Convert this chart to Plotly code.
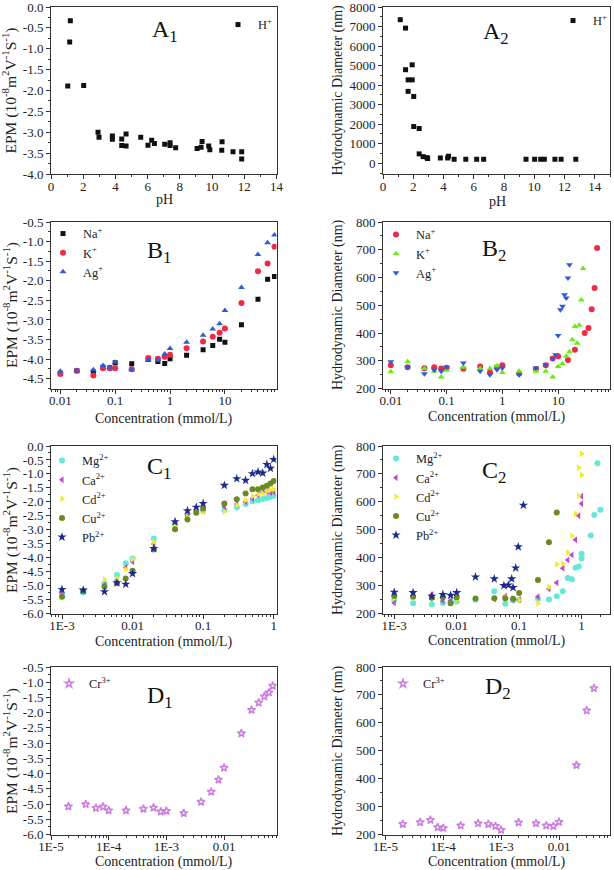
import plotly.graph_objects as go

W, H = 614, 870
FONT = "Liberation Serif, Times New Roman, Times, serif"
INK = "#222222"

# ---------------- data ----------------
# A1: EPM vs pH
ph_A1 = [1.04, 1.16, 1.2, 2.03, 2.92, 2.98, 3.81, 3.81, 4.39, 4.39, 4.66, 4.66, 5.57, 6.02, 6.25,
         6.42, 7.06, 7.39, 7.39, 7.74, 9.07, 9.32, 9.38, 9.79, 9.86, 10.6, 10.62, 11.3, 11.84, 11.84]
epm_A1 = [-1.89, -0.84, -0.33, -1.88, -3.0, -3.12, -3.09, -3.17, -3.32, -3.16, -3.04, -3.33, -3.12, -3.31, -3.19,
          -3.27, -3.29, -3.25, -3.32, -3.37, -3.39, -3.36, -3.22, -3.33, -3.42, -3.43, -3.23, -3.47, -3.64, -3.47]

# A2: hydrodynamic diameter vs pH
ph_A2 = [1.14, 1.49, 1.49, 1.66, 1.66, 1.93, 1.93, 2.03, 2.03, 2.39, 2.39, 2.65, 2.91, 2.95, 3.79, 4.27,
         4.33, 4.7, 5.47, 6.19, 6.65, 9.45, 10.02, 10.42, 10.66, 11.36, 11.77, 12.74]
d_A2 = [7350, 6920, 4790, 4270, 3680, 5040, 4270, 3420, 1880, 1780, 480, 340, 290, 240, 270, 270,
        360, 205, 205, 205, 205, 205, 205, 205, 205, 205, 205, 205]

# B1: EPM vs concentration (monovalent)
conc_B1 = [0.01, 0.02, 0.04, 0.06, 0.08, 0.1, 0.2, 0.4, 0.6, 0.8, 1, 2, 4, 6, 8, 10, 20, 40, 60, 80]
epm_B1_Na = [-4.36, -4.30, -4.33, -4.21, -4.22, -4.09, -4.12, -4.01, -4.06, -4.11, -3.99, -3.90, -3.76,
             -3.65, -3.49, -3.57, -3.12, -2.47, -1.96, -1.89]
epm_B1_K = [-4.38, -4.30, -4.42, -4.23, -4.23, -4.23, -4.26, -3.97, -3.99, -3.94, -3.89, -3.72, -3.55,
            -3.43, -3.33, -3.22, -2.57, -1.76, -1.56, -1.13]
epm_B1_Ag = [-4.31, -4.30, -4.27, -4.16, -4.21, -4.08, -4.27, -4.03, -4.03, -3.87, -3.73, -3.57, -3.39,
             -3.23, -3.10, -2.76, -2.17, -1.33, -1.03, -0.83]

# B2: diameter vs concentration (monovalent)
conc_B2_Na = [0.01, 0.02, 0.04, 0.06, 0.08, 0.1, 0.2, 0.4, 0.6, 0.8, 1, 2, 4, 6, 8, 10, 15, 20, 30, 35, 40, 45, 50]
d_B2_Na = [284, 277, 273, 277, 272, 275, 271, 279, 258, 277, 284, 254, 270, 284, 308, 316, 303, 340, 400, 418, 486, 562, 706]
conc_B2_K = [0.01, 0.02, 0.04, 0.06, 0.08, 0.1, 0.2, 0.4, 0.6, 0.8, 1, 2, 4, 6, 8, 10, 12, 14, 16, 18, 20, 22, 24, 26, 28]
d_B2_K = [260, 296, 272, 262, 241, 266, 277, 272, 272, 282, 258, 262, 262, 262, 241, 279, 289, 316, 332, 376, 423, 363, 428, 519, 632]
conc_B2_Ag = [0.01, 0.02, 0.04, 0.06, 0.08, 0.1, 0.2, 0.4, 0.6, 0.8, 1, 2, 4, 6, 8, 9, 10, 11, 12, 13, 14, 15, 16]
d_B2_Ag = [296, 277, 253, 267, 262, 277, 292, 262, 250, 268, 274, 250, 274, 286, 308, 322, 391, 484, 496, 538, 526, 598, 646]

# C1: EPM vs concentration (divalent)
conc_C1 = [0.001, 0.002, 0.004, 0.006, 0.008, 0.01, 0.02, 0.04, 0.06, 0.08, 0.1, 0.2, 0.3, 0.4, 0.5, 0.6, 0.7, 0.8, 0.9, 1.0]
epm_C1_Mg = [-5.28, -5.25, -4.92, -4.62, -4.20, -4.03, -3.31, -2.80, -2.44, -2.33, -2.33, -2.29, -2.20, -2.08,
             -1.98, -1.94, -1.90, -1.86, -1.82, -1.78]
epm_C1_Ca = [-5.22, -5.19, -4.98, -4.80, -4.35, -4.15, -3.51, -2.77, -2.51, -2.27, -2.30, -2.18, -2.08, -2.00,
             -1.88, -1.76, -1.66, -1.64, -1.67, -1.64]
epm_C1_Cd = [-5.43, -5.19, -4.78, -4.74, -4.42, -4.06, -3.45, -2.89, -2.56, -2.33, -2.35, -2.35, -2.12, -1.94,
             -1.79, -1.73, -1.70, -1.62, -1.58, -1.55]
epm_C1_Cu = [-5.40, -5.19, -5.04, -4.92, -4.75, -4.47, -3.71, -2.98, -2.63, -2.39, -2.24, -2.06, -1.91, -1.70,
             -1.55, -1.55, -1.49, -1.42, -1.34, -1.25]
epm_C1_Pb = [-5.14, -5.16, -5.22, -4.90, -4.95, -4.57, -3.67, -2.71, -2.32, -2.19, -2.06, -1.41, -1.17, -1.23,
             -0.99, -0.93, -0.97, -0.66, -0.80, -0.48]

# C2: diameter vs concentration (divalent)
conc_C2_Mg = [0.001, 0.002, 0.004, 0.006, 0.008, 0.01, 0.02, 0.04, 0.06, 0.08, 0.1, 0.2, 0.3, 0.4, 0.5,
              0.6, 0.7, 0.8, 0.9, 1.0, 1.0, 1.4, 1.6, 1.8, 2.0]
d_C2_Mg = [248, 237, 233, 238, 243, 243, 249, 280, 235, 247, 248, 253, 250, 262, 280,
           327, 323, 364, 368, 397, 414, 479, 553, 738, 572]
conc_C2_Ca = [0.001, 0.002, 0.004, 0.006, 0.008, 0.01, 0.04, 0.06, 0.08, 0.1, 0.2, 0.3, 0.4, 0.5, 0.6,
              0.7, 0.8, 0.9, 1.0, 1.0]
d_C2_Ca = [238, 262, 268, 245, 246, 253, 252, 262, 250, 250, 260, 288, 310, 362, 392, 410, 464, 550, 593, 620]
conc_C2_Cd = [0.001, 0.002, 0.004, 0.006, 0.008, 0.01, 0.04, 0.06, 0.08, 0.1, 0.2, 0.3, 0.4, 0.5, 0.6,
              0.7, 0.8, 0.9, 0.9, 1.0, 1.0]
d_C2_Cd = [255, 262, 253, 260, 265, 248, 255, 258, 255, 248, 236, 295, 376, 378, 418, 478, 557, 622, 722, 697, 772]
conc_C2_Cu = [0.001, 0.002, 0.004, 0.006, 0.008, 0.01, 0.02, 0.04, 0.06, 0.08, 0.1, 0.2, 0.3, 0.4]
d_C2_Cu = [263, 260, 256, 258, 237, 258, 254, 255, 255, 253, 273, 320, 455, 562]
conc_C2_Pb = [0.001, 0.002, 0.004, 0.006, 0.008, 0.01, 0.02, 0.04, 0.057, 0.067, 0.076, 0.08, 0.088, 0.097, 0.117]
d_C2_Pb = [276, 275, 262, 268, 265, 275, 331, 324, 300, 302, 324, 293, 363, 439, 588]

# D1 / D2: trivalent Cr
conc_D1 = [2e-5, 4e-5, 6e-5, 8e-5, 1e-4, 2e-4, 4e-4, 6e-4, 8e-4, 1e-3, 2e-3, 4e-3, 6e-3, 8e-3, 0.01,
           0.02, 0.03, 0.04, 0.05, 0.06, 0.07]
epm_D1 = [-5.08, -5.01, -5.13, -5.09, -5.21, -5.21, -5.16, -5.12, -5.25, -5.23, -5.30, -4.93, -4.60, -4.20,
          -3.81, -2.68, -1.91, -1.67, -1.47, -1.34, -1.12]
conc_D2 = [2e-5, 4e-5, 6e-5, 8e-5, 1e-4, 2e-4, 4e-4, 6e-4, 8e-4, 1e-3, 2e-3, 4e-3, 6e-3, 8e-3, 0.01,
           0.02, 0.03, 0.04]
d_D2 = [237, 244, 252, 226, 223, 232, 240, 237, 230, 216, 243, 240, 232, 230, 245, 448, 644, 724]

# tick labels
tv_ph_A1 = [0, 2, 4, 6, 8, 10, 12, 14]
tt_ph_A1 = ["0", "2", "4", "6", "8", "10", "12", "14"]
tv_epm_A1 = [0, -0.5, -1.0, -1.5, -2.0, -2.5, -3.0, -3.5, -4.0]
tt_epm_A1 = ["0.0", "-0.5", "-1.0", "-1.5", "-2.0", "-2.5", "-3.0", "-3.5", "-4.0"]
tv_d_A2 = [0, 1000, 2000, 3000, 4000, 5000, 6000, 7000, 8000]
tt_d_A2 = ["0", "1000", "2000", "3000", "4000", "5000", "6000", "7000", "8000"]
tv_epm_B1 = [-0.5, -1.0, -1.5, -2.0, -2.5, -3.0, -3.5, -4.0, -4.5]
tt_epm_B1 = ["-0.5", "-1.0", "-1.5", "-2.0", "-2.5", "-3.0", "-3.5", "-4.0", "-4.5"]
tv_conc_B = [0.01, 0.1, 1, 10]
tt_conc_B = ["0.01", "0.1", "1", "10"]
tv_d = [200, 300, 400, 500, 600, 700, 800]
tt_d = ["200", "300", "400", "500", "600", "700", "800"]
tv_epm_C1 = [0, -0.5, -1.0, -1.5, -2.0, -2.5, -3.0, -3.5, -4.0, -4.5, -5.0, -5.5, -6.0]
tt_epm_C1 = ["0.0", "-0.5", "-1.0", "-1.5", "-2.0", "-2.5", "-3.0", "-3.5", "-4.0", "-4.5", "-5.0", "-5.5", "-6.0"]
tv_conc_C = [0.001, 0.01, 0.1, 1]
tt_conc_C = ["1E-3", "0.01", "0.1", "1"]
tv_epm_D1 = [-0.5, -1.0, -1.5, -2.0, -2.5, -3.0, -3.5, -4.0, -4.5, -5.0, -5.5, -6.0]
tt_epm_D1 = ["-0.5", "-1.0", "-1.5", "-2.0", "-2.5", "-3.0", "-3.5", "-4.0", "-4.5", "-5.0", "-5.5", "-6.0"]
tv_conc_D = [1e-5, 1e-4, 1e-3, 0.01]
tt_conc_D = ["1E-5", "1E-4", "1E-3", "0.01"]

# ---------------- styling helpers ----------------
def px_x(a, b):
    return [a / W, b / W]

def px_y(top, bot):
    return [1 - bot / H, 1 - top / H]

COL_L = px_x(51, 276.5)
COL_R = px_x(383, 610)
ROW_A = px_y(7, 174)
ROW_B = px_y(222, 388.5)
ROW_C = px_y(446, 613.5)
ROW_D = px_y(667, 834.5)

def axis(domain, anchor, rng, tv, tt, minor_dtick, log=False, xax=False):
    d = dict(
        domain=domain, anchor=anchor, type="log" if log else "linear", range=rng,
        tickmode="array", tickvals=tv, ticktext=tt, automargin=False,
        ticklabeloverflow="allow",
        ticks="outside", ticklen=4, tickwidth=1, tickcolor="#333",
        showline=True, linecolor="#333", linewidth=1, mirror=True,
        showgrid=False, zeroline=False,
        tickfont=dict(family=FONT, size=13, color=INK),
        minor=dict(ticks="outside", ticklen=2, tickwidth=1, tickcolor="#333",
                   dtick=minor_dtick, showgrid=False),
    )
    if xax:
        d["ticklabelstandoff"] = -4
    return d

fig = go.Figure()

def add(x, y, name, symbol, color, size, xa, ya, leg, group, line_w=0, line_c=None):
    fig.add_trace(go.Scatter(
        x=x, y=y, mode="markers", name=name, xaxis=xa, yaxis=ya, legend=leg,
        legendgroup=group, showlegend=True,
        marker=dict(symbol=symbol, size=size, color=color,
                    line=dict(width=line_w, color=line_c or color)),
    ))

BLACK = "#111111"
RED = "#ee2b47"
BLUE = "#2f5bd9"
GREEN = "#66ee11"
CYAN = "#66e8d8"
MAG = "#c445cc"
YEL = "#eeee22"
OLIVE = "#6b8a23"
NAVY = "#1e2a8a"
LAV = "#cc80dd"

add(ph_A1, epm_A1, "H<sup>+</sup>", "square", BLACK, 5, "x", "y", "legend", "a1")
add(ph_A2, d_A2, "H<sup>+</sup>", "square", BLACK, 5, "x2", "y2", "legend2", "a2")

add(conc_B1, epm_B1_Na, "Na<sup>+</sup>", "square", BLACK, 5, "x3", "y3", "legend3", "b1a")
add(conc_B1, epm_B1_K, "K<sup>+</sup>", "circle", RED, 6, "x3", "y3", "legend3", "b1b")
add(conc_B1, epm_B1_Ag, "Ag<sup>+</sup>", "triangle-up", BLUE, 6, "x3", "y3", "legend3", "b1c")

add(conc_B2_Na, d_B2_Na, "Na<sup>+</sup>", "circle", RED, 6, "x4", "y4", "legend4", "b2a")
add(conc_B2_K, d_B2_K, "K<sup>+</sup>", "triangle-up", GREEN, 6, "x4", "y4", "legend4", "b2b")
add(conc_B2_Ag, d_B2_Ag, "Ag<sup>+</sup>", "triangle-down", BLUE, 6, "x4", "y4", "legend4", "b2c")

add(conc_C1, epm_C1_Mg, "Mg<sup>2+</sup>", "circle", CYAN, 6, "x5", "y5", "legend5", "c1a")
add(conc_C1, epm_C1_Ca, "Ca<sup>2+</sup>", "triangle-left", MAG, 6, "x5", "y5", "legend5", "c1b")
add(conc_C1, epm_C1_Cd, "Cd<sup>2+</sup>", "triangle-right", YEL, 6, "x5", "y5", "legend5", "c1c")
add(conc_C1, epm_C1_Cu, "Cu<sup>2+</sup>", "circle", OLIVE, 6, "x5", "y5", "legend5", "c1d")
add(conc_C1, epm_C1_Pb, "Pb<sup>2+</sup>", "star", NAVY, 7, "x5", "y5", "legend5", "c1e")

add(conc_C2_Mg, d_C2_Mg, "Mg<sup>2+</sup>", "circle", CYAN, 6, "x6", "y6", "legend6", "c2a")
add(conc_C2_Ca, d_C2_Ca, "Ca<sup>2+</sup>", "triangle-left", MAG, 6, "x6", "y6", "legend6", "c2b")
add(conc_C2_Cd, d_C2_Cd, "Cd<sup>2+</sup>", "triangle-right", YEL, 6, "x6", "y6", "legend6", "c2c")
add(conc_C2_Cu, d_C2_Cu, "Cu<sup>2+</sup>", "circle", OLIVE, 6, "x6", "y6", "legend6", "c2d")
add(conc_C2_Pb, d_C2_Pb, "Pb<sup>2+</sup>", "star", NAVY, 7, "x6", "y6", "legend6", "c2e")

add(conc_D1, epm_D1, "Cr<sup>3+</sup>", "star-open", LAV, 6, "x7", "y7", "legend7", "d1", 1.5)
add(conc_D2, d_D2, "Cr<sup>3+</sup>", "star-open", LAV, 6, "x8", "y8", "legend8", "d2", 1.5)

layout = dict(
    width=W, height=H, margin=dict(l=0, r=0, t=0, b=0, pad=0, autoexpand=False),
    paper_bgcolor="white", plot_bgcolor="white", showlegend=True,
    font=dict(family=FONT, size=13, color=INK),
    xaxis=axis(COL_L, "y", [0, 14], tv_ph_A1, tt_ph_A1, 1, xax=True),
    yaxis=axis(ROW_A, "x", [-4, 0], tv_epm_A1, tt_epm_A1, 0.25),
    xaxis2=axis(COL_R, "y2", [0, 15], tv_ph_A1, tt_ph_A1, 1, xax=True),
    yaxis2=axis(ROW_A, "x2", [-550, 8000], tv_d_A2, tt_d_A2, 500),
    xaxis3=axis(COL_L, "y3", [-2.17, 1.94], tv_conc_B, tt_conc_B, "D1", log=True, xax=True),
    yaxis3=axis(ROW_B, "x3", [-4.75, -0.5], tv_epm_B1, tt_epm_B1, 0.25),
    xaxis4=axis(COL_R, "y4", [-2.14, 1.93], tv_conc_B, tt_conc_B, "D1", log=True, xax=True),
    yaxis4=axis(ROW_B, "x4", [200, 800], tv_d, tt_d, 50),
    xaxis5=axis(COL_L, "y5", [-3.156, 0.04], tv_conc_C, tt_conc_C, "D1", log=True, xax=True),
    yaxis5=axis(ROW_C, "x5", [-6, 0], tv_epm_C1, tt_epm_C1, 0.25),
    xaxis6=axis(COL_R, "y6", [-3.18, 0.455], tv_conc_C, tt_conc_C, "D1", log=True, xax=True),
    yaxis6=axis(ROW_C, "x6", [200, 800], tv_d, tt_d, 50),
    xaxis7=axis(COL_L, "y7", [-5.0, -1.09], tv_conc_D, tt_conc_D, "D1", log=True, xax=True),
    yaxis7=axis(ROW_D, "x7", [-6, -0.5], tv_epm_D1, tt_epm_D1, 0.25),
    xaxis8=axis(COL_R, "y8", [-5.04, -1.12], tv_conc_D, tt_conc_D, "D1", log=True, xax=True),
    yaxis8=axis(ROW_D, "x8", [200, 800], tv_d, tt_d, 50),
)

def legend(mx, my):
    # mx, my: pixel position of first legend marker
    return dict(x=(mx - 20) / W, y=1 - (my - 15) / H, xanchor="left", yanchor="top",
                bgcolor="rgba(0,0,0,0)", borderwidth=0, tracegroupgap=0, visible=True,
                font=dict(family=FONT, size=12.4, color=INK), traceorder="normal")

layout["legend"] = legend(238, 25)
layout["legend2"] = legend(573, 21)
layout["legend3"] = legend(63, 234)
layout["legend4"] = legend(396, 235)
layout["legend5"] = legend(62, 461)
layout["legend6"] = legend(396, 459)
layout["legend7"] = legend(69, 684)
layout["legend8"] = legend(403, 684)

fig.update_layout(**layout)

annotations = []

def label(text, x, y):
    annotations.append(dict(text=text, x=x / W, y=1 - y / H, xref="paper", yref="paper",
                            xanchor="left", yanchor="top", showarrow=False,
                            font=dict(family=FONT, size=24, color="#111")))

label("A<sub>1</sub>", 150, 14)
label("A<sub>2</sub>", 481, 16)
label("B<sub>1</sub>", 145, 235)
label("B<sub>2</sub>", 480, 233)
label("C<sub>1</sub>", 145, 451)
label("C<sub>2</sub>", 480, 455)
label("D<sub>1</sub>", 145, 680)
label("D<sub>2</sub>", 483, 671)

def title(text, x, y, angle=0, size=14):
    annotations.append(dict(text=text, x=x / W, y=1 - y / H, xref="paper", yref="paper",
                            xanchor="center", yanchor="middle", showarrow=False, textangle=angle,
                            font=dict(family=FONT, size=size, color=INK)))

EPM = "EPM (10<sup>-8</sup>m<sup>2</sup>V<sup>-1</sup>S<sup>-1</sup>)"
HD = "Hydrodynamic Diameter (nm)"
CONC = "Concentration (mmol/L)"

title("pH", 164, 200)
title("pH", 497, 201)
title(CONC, 164, 419)
title(CONC, 497, 417)
title(CONC, 164, 642)
title(CONC, 497, 641)
title(CONC, 164, 862)
title(CONC, 497, 862)
for yc in (90.5, 305, 530, 751):
    title(EPM, 10, yc, -90, 15.5)
    title(HD, 338, yc, -90)

fig.update_layout(annotations=annotations)

fig.write_html("out.html")
